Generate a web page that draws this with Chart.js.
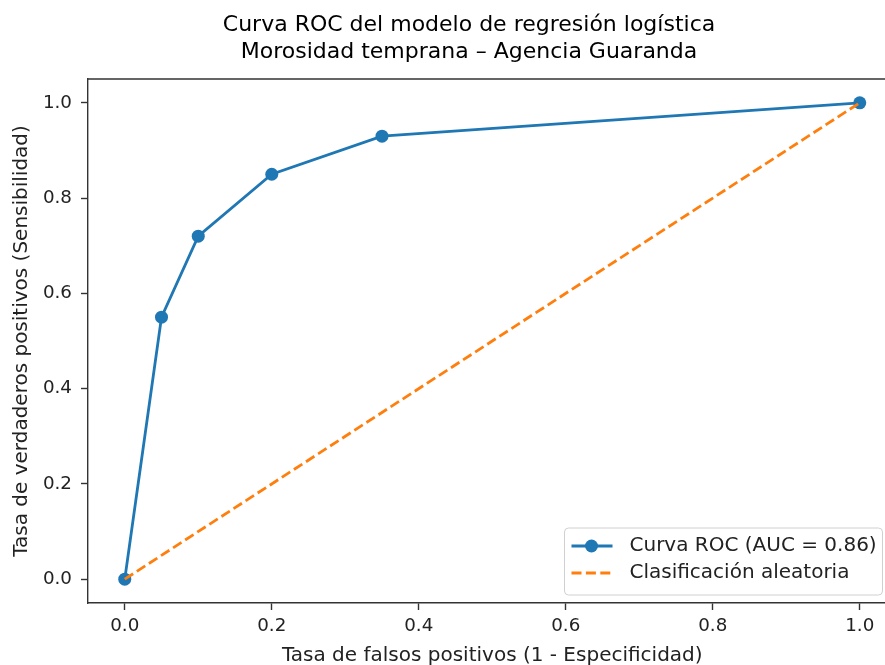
<!DOCTYPE html>
<html>
<head>
<meta charset="utf-8">
<script src="https://cdn.jsdelivr.net/npm/chart.js@4"></script>
<style>
  html, body { margin: 0; padding: 0; background: #fff; overflow: hidden; }
  #wrap { width: 885px; height: 665px; overflow: hidden; }
</style>
</head>
<body>
<div id="wrap"><canvas id="roc-chart" width="903" height="665"></canvas></div>
<script>
  const chartTitle = ['Curva ROC del modelo de regresión logística', 'Morosidad temprana – Agencia Guaranda'];
  const fprValues = [0.0, 0.05, 0.10, 0.20, 0.35, 1.0];
  const tprValues = [0.0, 0.55, 0.72, 0.85, 0.93, 1.0];
  const randomX = [0.0, 1.0];
  const randomY = [0.0, 1.0];
  const xTicks = [0.0, 0.2, 0.4, 0.6, 0.8, 1.0];
  const yTicks = [0.0, 0.2, 0.4, 0.6, 0.8, 1.0];
  const rocLabel = 'Curva ROC (AUC = 0.86)';
  const randomLabel = 'Clasificación aleatoria';

  const FONT = 'DejaVu Sans';
  const spineColor = '#333';
  const tickSize = 18.3;
  const axisLabelSize = 20;

  // title centred like the original figure, plus top/right spines
  const framePlugin = {
    id: 'frame',
    afterDraw(chart) {
      const ctx = chart.ctx;
      const a = chart.chartArea;
      ctx.save();
      ctx.strokeStyle = spineColor;
      ctx.lineWidth = 1.4;
      ctx.beginPath();
      ctx.moveTo(a.left, a.top);
      ctx.lineTo(a.right, a.top);
      ctx.lineTo(a.right, a.bottom);
      ctx.stroke();

      ctx.fillStyle = '#000';
      ctx.font = '22px "' + FONT + '"';
      ctx.textAlign = 'center';
      ctx.textBaseline = 'middle';
      ctx.fillText(chartTitle[0], 469, 25);
      ctx.fillText(chartTitle[1], 469, 52);
      ctx.restore();
    }
  };

  // legend box in the lower right corner of the axes
  const legendPlugin = {
    id: 'boxLegend',
    afterDraw(chart) {
      const ctx = chart.ctx;
      const a = chart.chartArea;
      const right = a.right - 14;
      const bottom = a.bottom - 8;
      const w = 318, h = 67;
      const left = right - w, top = bottom - h;
      ctx.save();
      ctx.beginPath();
      ctx.roundRect(left, top, w, h, 4);
      ctx.fillStyle = 'rgba(255,255,255,0.8)';
      ctx.fill();
      ctx.strokeStyle = '#d0d0d0';
      ctx.lineWidth = 1;
      ctx.stroke();

      const ds = chart.data.datasets;
      const rows = [top + 18, top + 45];
      ds.forEach((d, i) => {
        const y = rows[i];
        ctx.strokeStyle = d.borderColor;
        ctx.lineWidth = d.borderWidth;
        ctx.setLineDash(d.borderDash || []);
        ctx.beginPath();
        ctx.moveTo(left + 7, y);
        ctx.lineTo(left + 48, y);
        ctx.stroke();
        ctx.setLineDash([]);
        if (d.pointRadius > 0) {
          ctx.fillStyle = d.pointBackgroundColor;
          ctx.beginPath();
          ctx.arc(left + 27, y, d.pointRadius, 0, Math.PI * 2);
          ctx.fill();
        }
        ctx.fillStyle = '#222';
        ctx.font = axisLabelSize + 'px "' + FONT + '"';
        ctx.textAlign = 'left';
        ctx.textBaseline = 'middle';
        ctx.fillText(d.label, left + 65, y);
      });
      ctx.restore();
    }
  };

  const ctx = document.getElementById('roc-chart').getContext('2d');
  const rocChart = new Chart(ctx, {
    type: 'line',
    data: {
      datasets: [
        {
          label: rocLabel,
          data: fprValues.map((x, i) => ({ x: x, y: tprValues[i] })),
          borderColor: '#1f77b4',
          borderWidth: 2.8,
          pointRadius: 6.5,
          pointBorderWidth: 0,
          pointBackgroundColor: '#1f77b4',
          fill: false,
          order: 1
        },
        {
          label: randomLabel,
          data: randomX.map((x, i) => ({ x: x, y: randomY[i] })),
          borderColor: '#ff7f0e',
          borderWidth: 2.8,
          borderDash: [10, 4.4],
          pointRadius: 0,
          fill: false,
          order: 0
        }
      ]
    },
    options: {
      responsive: false,
      animation: false,
      devicePixelRatio: 1,
      // the original axes run past the right edge of the picture
      layout: { padding: { left: 0, right: 0, top: 79, bottom: 0 } },
      plugins: {
        legend: { display: false },
        tooltip: { enabled: false },
        title: { display: false }
      },
      scales: {
        x: {
          type: 'linear',
          min: -0.05,
          max: 1.05,
          afterBuildTicks: function(scale) {
            scale.ticks = xTicks.map(v => ({ value: v }));
          },
          afterFit: function(scale) { scale.height = 62; },
          ticks: {
            callback: v => v.toFixed(1),
            font: { family: FONT, size: tickSize },
            color: '#222',
            padding: 5,
            maxRotation: 0
          },
          grid: { drawOnChartArea: false, drawTicks: true, tickLength: 7, tickWidth: 1.4, tickColor: spineColor },
          border: { display: true, color: spineColor, width: 1.4 },
          title: {
            display: true,
            text: 'Tasa de falsos positivos (1 - Especificidad)',
            font: { family: FONT, size: axisLabelSize, lineHeight: 0.9 },
            color: '#222',
            padding: { top: 0, bottom: 0 }
          }
        },
        y: {
          type: 'linear',
          min: -0.05,
          max: 1.05,
          afterBuildTicks: function(scale) {
            scale.ticks = yTicks.map(v => ({ value: v }));
          },
          afterFit: function(scale) { scale.width = 88; },
          ticks: {
            callback: v => v.toFixed(1),
            font: { family: FONT, size: tickSize },
            color: '#222',
            padding: 9
          },
          grid: { drawOnChartArea: false, drawTicks: true, tickLength: 7, tickWidth: 1.4, tickColor: spineColor },
          border: { display: true, color: spineColor, width: 1.4 },
          title: {
            display: true,
            text: 'Tasa de verdaderos positivos (Sensibilidad)',
            font: { family: FONT, size: axisLabelSize, lineHeight: 1.2 },
            color: '#222',
            padding: { top: 9.5, bottom: 0 }
          }
        }
      }
    },
    plugins: [framePlugin, legendPlugin]
  });
</script>
</body>
</html>
